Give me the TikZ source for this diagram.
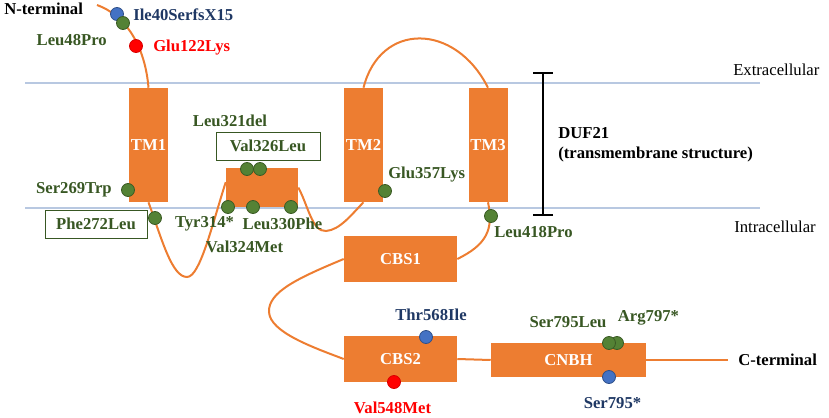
\documentclass[tikz,border=0pt]{standalone}
\usepackage{fontspec}
\setmainfont{Liberation Serif}
\usetikzlibrary{arrows.meta}
\definecolor{orng}{RGB}{237,125,49}
\definecolor{grn}{RGB}{84,130,53}
\definecolor{grntxt}{RGB}{56,87,35}
\definecolor{blu}{RGB}{68,114,196}
\definecolor{blutxt}{RGB}{31,56,100}
\definecolor{rd}{RGB}{255,0,0}
\definecolor{memb}{RGB}{184,200,225}

\begin{document}
\begin{tikzpicture}[x=0.75pt,y=0.75pt,yscale=-1,xscale=1,
	lbl/.style={inner sep=0.75pt,font=\fontsize{12.5}{14}\selectfont\bfseries},
	glbl/.style={lbl,text=grntxt},
	blbl/.style={lbl,text=blutxt},
	rlbl/.style={lbl,text=rd},
	dom/.style={fill=orng,inner sep=0pt,text=white,font=\fontsize{12.5}{14}\selectfont\bfseries},
	tm/.style={dom,minimum width=29.25pt,minimum height=85.5pt},
	cbs/.style={dom,minimum width=84.75pt,minimum height=34.5pt},
	mut/.style={circle,inner sep=0pt,minimum size=9.75pt,line width=0.6pt},
	gdot/.style={mut,fill=grn,draw=grn!70!black},
	bdot/.style={mut,fill=blu,draw=blu!70!black},
	rdot/.style={mut,fill=rd,draw=rd!85!black},
	chain/.style={draw=orng,line width=1.5pt},
	membline/.style={draw=memb,line width=0.9pt},
	mbox/.style={glbl,draw=grntxt,line width=0.6pt,minimum height=21pt}]
	\useasboundingbox (0,0) rectangle (829,418);

	% membrane
	\coordinate (mtopL) at (25,83);
	\coordinate (mtopR) at (760,83);
	\coordinate (mbotL) at (25,208);
	\coordinate (mbotR) at (760,208);
	\draw [membline] (mtopL) -- (mtopR);
	\draw [membline] (mbotL) -- (mbotR);

	% domains
	\node [tm] (tm1) at (148.5,145) {TM1};
	\node [tm] (tm2) at (363.5,145) {TM2};
	\node [tm] (tm3) at (488,145) {TM3};
	\node [dom,minimum width=54pt,minimum height=29.25pt] (helix) at (262,187.5) {};
	\node [cbs] (cbs1) at (400.5,259) {CBS1};
	\node [cbs] (cbs2) at (400.5,359) {CBS2};
	\node [dom,minimum width=116.25pt,minimum height=25.5pt] (cnbh) at (568.5,360) {CNBH};

	% chain
	\coordinate (nstart) at (97,5);
	\coordinate (cend) at (728,360);
	\draw [chain] (nstart) .. controls (125,15) and (145,45) .. (tm1.north);
	\draw [chain] (tm1.south) .. controls (162,240) and (172,277) .. (187,277) .. controls (200,277) and (212,225) .. ([yshift=-4pt]helix.west);
	\draw [chain] (helix.east) .. controls (308,205) and (312,232) .. (326,231) .. controls (340,230) and (352,214) .. (tm2.south);
	\draw [chain] (tm2.north) .. controls (380,22) and (455,22) .. (tm3.north);
	\draw [chain] (tm3.south) .. controls (494,230) and (486,245) .. (cbs1.east);
	\draw [chain] (cbs1.west) .. controls (298,278) and (268,292) .. (269,312) .. controls (270,332) and (312,347) .. (cbs2.west);
	\draw [chain] (cbs2.east) -- (cnbh.west);
	\draw [chain] (cnbh.east) -- (cend);

	% mutations
	\node [bdot] (d40) at (117,14) {};
	\node [gdot] (d48) at (123,23) {};
	\node [rdot] (d122) at (136,46) {};
	\node [gdot] (d269) at (128,190) {};
	\node [gdot] (d272) at (155,218) {};
	\node [gdot] (d326) at (260,169) {};
	\node [gdot] (d321) at (247,169) {};
	\node [gdot] (d314) at (228,207) {};
	\node [gdot] (d324) at (253,207) {};
	\node [gdot] (d330) at (291,207) {};
	\node [gdot] (d357) at (385,191) {};
	\node [gdot] (d418) at (491,216) {};
	\node [bdot] (d568) at (426,337) {};
	\node [rdot] (d548) at (394,382) {};
	\node [gdot] (d797) at (617,343) {};
	\node [gdot] (d795l) at (609,343) {};
	\node [bdot] (d795s) at (609,377) {};

	% labels
	\node [lbl,anchor=west] (nterm) at (3,9) {N-terminal};
	\node [lbl,anchor=west] (cterm) at (737,360) {C-terminal};
	\node [blbl,anchor=west] (t40) at (132,15) {Ile40SerfsX15};
	\node [glbl,anchor=east] (t48) at (108,40) {Leu48Pro};
	\node [rlbl,anchor=west] (t122) at (152,48) {Glu122Lys};
	\node [glbl] (t321) at (230,121) {Leu321del};
	\node [mbox,minimum width=78pt] (t326) at (268,146) {Val326Leu};
	\node [glbl,anchor=east] (t269) at (113,190) {Ser269Trp};
	\node [mbox,minimum width=76.5pt] (t272) at (96,224) {Phe272Leu};
	\node [glbl] (t314) at (204.5,224) {Tyr314*};
	\node [glbl] (t330) at (282.5,224) {Leu330Phe};
	\node [glbl] (t324) at (244.5,247) {Val324Met};
	\node [glbl,anchor=west] (t357) at (387,175) {Glu357Lys};
	\node [glbl,anchor=west] (t418) at (493,232) {Leu418Pro};
	\node [blbl] (t568) at (431,315) {Thr568Ile};
	\node [rlbl] (t548) at (392.5,408) {Val548Met};
	\node [glbl] (t795l) at (568,322) {Ser795Leu};
	\node [glbl] (t797) at (648.5,318) {Arg797*};
	\node [blbl] (t795s) at (612.5,403) {Ser795*};

	% DUF21 span
	\coordinate (duftop) at (543,72);
	\coordinate (dufbot) at (543,216);
	\draw [line width=1.5pt,{Bar[width=15pt]}-{Bar[width=15pt]}] (duftop) -- (dufbot);
	\node [lbl,anchor=west] (duf) at (557,133) {DUF21};
	\node [lbl,anchor=west] (dufsub) at (557,154) {(transmembrane structure)};
	\node [inner sep=0.75pt,font=\fontsize{12.5}{14}\selectfont,anchor=west] (extra) at (732,70) {Extracellular};
	\node [inner sep=0.75pt,font=\fontsize{12.5}{14}\selectfont,anchor=west] (intra) at (733,227) {Intracellular};
\end{tikzpicture}
\end{document}
